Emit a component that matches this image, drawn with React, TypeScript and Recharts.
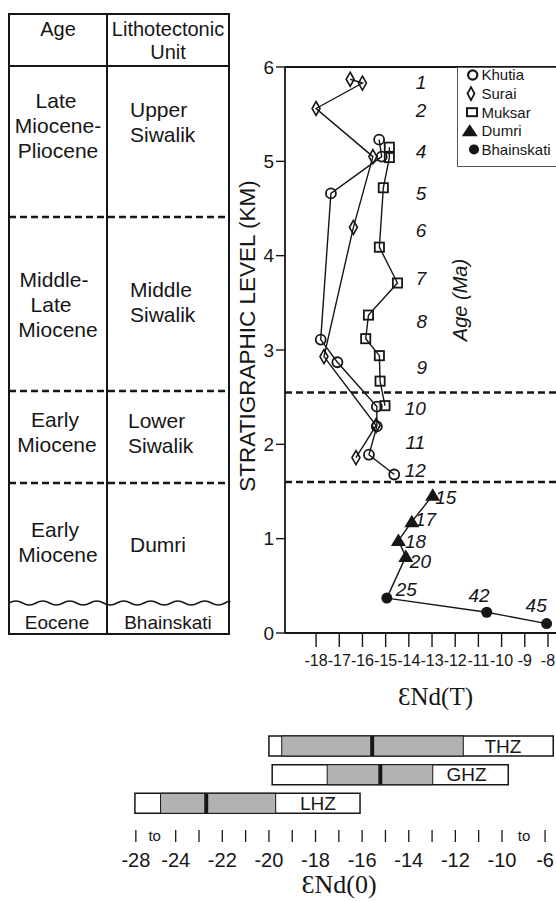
import React from 'react';
import {
  ScatterChart,
  Scatter,
  XAxis,
  YAxis,
  ReferenceLine,
  Legend,
  ComposedChart,
  Bar,
  LabelList,
} from 'recharts';

const SANS = "'Liberation Sans', Arial, Helvetica, sans-serif";
const SERIF = "'Liberation Serif', 'DejaVu Serif', 'Times New Roman', serif";
const INK = '#161616';

// ---------- upper panel: eNd(T) versus stratigraphic level (km) ----------
const khutiaEnd = [-15.28, -15.17, -17.36, -17.8, -17.08, -15.38, -15.38, -15.72, -14.63];
const khutiaLevel = [5.23, 5.05, 4.66, 3.11, 2.87, 2.4, 2.19, 1.89, 1.68];

const suraiEnd = [-16.53, -16.0, -18.0, -15.55, -16.39, -17.66, -15.41, -16.28];
const suraiLevel = [5.87, 5.83, 5.56, 5.05, 4.3, 2.93, 2.2, 1.86];

const muksarEnd = [-14.84, -14.84, -15.1, -15.27, -14.49, -15.74, -15.86, -15.27, -15.24, -15.03];
const muksarLevel = [5.15, 5.04, 4.72, 4.09, 3.71, 3.37, 3.12, 2.94, 2.67, 2.41];

const dumriEnd = [-12.97, -13.87, -14.45, -14.13];
const dumriLevel = [1.46, 1.18, 0.98, 0.81];

const bhainskatiEnd = [-14.95, -10.64, -8.06];
const bhainskatiLevel = [0.37, 0.22, 0.1];

// depositional ages (Ma) written beside the section
const ageText = ['1', '2', '4', '5', '6', '7', '8', '9', '10', '11', '12', '15', '17', '18', '20', '25', '42', '45'];
const ageEnd = [-13.47, -13.47, -13.47, -13.47, -13.47, -13.47, -13.44, -13.44, -13.72, -13.72, -13.72, -12.41, -13.28, -13.71, -13.5, -14.11, -10.97, -8.51];
const ageLevel = [5.84, 5.54, 5.1, 4.66, 4.27, 3.76, 3.3, 2.81, 2.38, 2.02, 1.72, 1.44, 1.2, 0.97, 0.76, 0.465, 0.4, 0.29];

const boundaryLevels = [2.55, 1.6];
const upperXTicks = [-18, -17, -16, -15, -14, -13, -12, -11, -10, -9, -8];
const upperYTicks = [0, 1, 2, 3, 4, 5, 6];
const legendNames = ['Khutia', 'Surai', 'Muksar', 'Dumri', 'Bhainskati'];

// ---------- lower panel: eNd(0) ranges of the Himalayan zones ----------
// (axis is broken: -28 and -6 sit at the ends after "to")
const zones = ['THZ', 'GHZ', 'LHZ'];
const zoneBoxMin = [-20.0, -19.86, -25.75];
const zoneBoxMax = [-7.8, -9.73, -16.09];
const zoneGreyMin = [-19.45, -17.5, -24.65];
const zoneGreyMax = [-11.66, -12.97, -19.71];
const zoneMean = [-15.57, -15.22, -22.69];
const zoneLabelAt = [-9.96, -11.52, -17.9];

const lowerTickPos = [-25.71, -24.9, -24, -23, -22, -21, -20, -19, -18, -17, -16, -15, -14, -13, -12, -11, -10, -9.05, -8.15];
const lowerTickText = ['-28', 'to', '-24', '', '-22', '', '-20', '', '-18', '', '-16', '', '-14', '', '-12', '', '-10', 'to', '-6'];

// ---------- derived series ----------
const toPoints = (xs: number[], ys: number[]) => xs.map((x, i) => ({ x, y: ys[i] }));
const khutia = toPoints(khutiaEnd, khutiaLevel);
const surai = toPoints(suraiEnd, suraiLevel);
const muksar = toPoints(muksarEnd, muksarLevel);
const dumri = toPoints(dumriEnd, dumriLevel);
const bhainskati = toPoints(bhainskatiEnd, bhainskatiLevel);
const connector = [dumri[dumri.length - 1], bhainskati[0]];
const ageLabels = ageText.map((t, i) => ({ x: ageEnd[i], y: ageLevel[i], t }));

const MEAN_HALF = 0.085;
const TAG_HALF = 0.01;
const zoneRows = zones.map((zone, i) => ({
  zone,
  box: [zoneBoxMin[i], zoneBoxMax[i]],
  grey: [zoneGreyMin[i], zoneGreyMax[i]],
  mean: [zoneMean[i] - MEAN_HALF, zoneMean[i] + MEAN_HALF],
  tag: [zoneLabelAt[i] - TAG_HALF, zoneLabelAt[i] + TAG_HALF],
}));

// ---------- marker shapes ----------
const OpenCircle = (p: any) => (
  <circle cx={p.cx} cy={p.cy} r={5} fill="none" stroke={INK} strokeWidth={1.8} />
);
const OpenDiamond = (p: any) => (
  <path
    d={`M${p.cx},${p.cy - 7} L${p.cx + 4},${p.cy} L${p.cx},${p.cy + 7} L${p.cx - 4},${p.cy} Z`}
    fill="none"
    stroke={INK}
    strokeWidth={1.6}
  />
);
const OpenSquare = (p: any) => (
  <rect x={p.cx - 4.6} y={p.cy - 4.6} width={9.2} height={9.2} fill="none" stroke={INK} strokeWidth={1.8} />
);
const FilledTriangle = (p: any) => (
  <path d={`M${p.cx},${p.cy - 7} L${p.cx + 7.5},${p.cy + 5.5} L${p.cx - 7.5},${p.cy + 5.5} Z`} fill={INK} />
);
const FilledCircle = (p: any) => <circle cx={p.cx} cy={p.cy} r={5.5} fill={INK} />;
const NoMarker = () => <g />;
const AgeMark = (p: any) => (
  <text
    x={p.cx}
    y={p.cy}
    textAnchor="middle"
    dominantBaseline="central"
    fontStyle="italic"
    fontSize={19}
    fontFamily={SANS}
    fill={INK}
  >
    {p.payload.t}
  </text>
);

const legendSymbols = [
  (cx: number, cy: number) => <circle cx={cx} cy={cy} r={4.6} fill="none" stroke={INK} strokeWidth={2.2} />,
  (cx: number, cy: number) => (
    <path d={`M${cx},${cy - 6.5} L${cx + 3.5},${cy} L${cx},${cy + 6.5} L${cx - 3.5},${cy} Z`} fill="none" stroke={INK} strokeWidth={1.8} />
  ),
  (cx: number, cy: number) => <rect x={cx - 5} y={cy - 4} width={10} height={8} fill="none" stroke={INK} strokeWidth={2} />,
  (cx: number, cy: number) => <path d={`M${cx},${cy - 6.5} L${cx + 8},${cy + 5.5} L${cx - 8},${cy + 5.5} Z`} fill={INK} />,
  (cx: number, cy: number) => <circle cx={cx} cy={cy} r={5} fill={INK} />,
];
const legendSymbolX = [14.7, 13, 14, 11.7, 16];

const LegendBox = () => (
  <div
    style={{
      width: 120,
      height: 100,
      border: '1px solid #555',
      boxSizing: 'border-box',
      background: '#fff',
    }}
  >
    <svg width={118} height={98} style={{ display: 'block', overflow: 'visible' }}>
      {legendNames.map((name, i) => {
        const cy = 7 + i * 18.6;
        return (
          <g key={name}>
            {legendSymbols[i](legendSymbolX[i], cy)}
            <text x={23.5} y={cy + 5.3} fontSize={15} fontFamily={SANS} fill={INK}>
              {name}
            </text>
          </g>
        );
      })}
    </svg>
  </div>
);

const UpperXLabel = (props: any) => {
  const vb = props.viewBox || { x: 285, y: 633, width: 285, height: 77 };
  return (
    <text x={vb.x + vb.width / 2 + 8} y={vb.y + 72} textAnchor="middle" fontSize={25} fontFamily={SERIF} fill={INK}>
      ƐNd(T)
    </text>
  );
};

const UpperYLabel = (props: any) => {
  const vb = props.viewBox || { x: 225, y: 67, width: 60, height: 566 };
  const cx = vb.x + 22;
  const cy = vb.y + vb.height / 2 - 14;
  return (
    <text
      x={cx}
      y={cy}
      transform={`rotate(-90, ${cx}, ${cy})`}
      textAnchor="middle"
      dominantBaseline="central"
      fontSize={22.5}
      fontFamily={SANS}
      fill={INK}
    >
      STRATIGRAPHIC LEVEL (KM)
    </text>
  );
};

const LowerXLabel = (props: any) => {
  const vb = props.viewBox || { x: 120, y: 818, width: 440, height: 83 };
  return (
    <text x={339} y={vb.y + 75} textAnchor="middle" fontSize={26} fontFamily={SERIF} fill={INK}>
      ƐNd(0)
    </text>
  );
};

const LowerTick = (p: any) => {
  const v = p.payload && p.payload.value;
  const i = lowerTickPos.indexOf(v);
  const lab = i >= 0 ? lowerTickText[i] : '';
  if (lab === 'to') {
    return (
      <text x={p.x} y={p.y + 23} textAnchor="middle" fontSize={15} fontFamily={SANS} fill={INK}>
        to
      </text>
    );
  }
  return (
    <g>
      <line x1={p.x} x2={p.x} y1={p.y + 12} y2={p.y + 24} stroke={INK} strokeWidth={1.3} />
      {lab ? (
        <text x={p.x} y={p.y + 49} textAnchor="middle" fontSize={20} fontFamily={SANS} fill={INK}>
          {lab}
        </text>
      ) : null}
    </g>
  );
};

const ZoneTag = (p: any) => (
  <text
    x={p.x + p.width / 2}
    y={p.y + p.height / 2}
    textAnchor="middle"
    dominantBaseline="central"
    fontSize={19}
    fontFamily={SANS}
    fill={INK}
  >
    {p.value}
  </text>
);

// ---------- stratigraphic table (left) ----------
const wavePath = (() => {
  let d = 'M9,603';
  for (let x = 9; x < 229; x += 13.5) {
    const up = Math.round((x - 9) / 13.5) % 2 === 0;
    d += ` Q${x + 6.75},${up ? 599 : 607} ${Math.min(x + 13.5, 229)},603`;
  }
  return d;
})();

const T = (props: any) => (
  <text fontFamily={SANS} fill={INK} fontSize={21} {...props} />
);

const StratTable = () => (
  <svg width={240} height={640} style={{ position: 'absolute', left: 0, top: 0 }}>
    <rect x={9} y={14} width={220} height={620} fill="none" stroke={INK} strokeWidth={2} />
    <line x1={9} x2={229} y1={66} y2={66} stroke={INK} strokeWidth={2} />
    <line x1={107} x2={107} y1={14} y2={634} stroke={INK} strokeWidth={2} />
    {[217, 391, 483].map((y) => (
      <line key={y} x1={9} x2={229} y1={y} y2={y} stroke={INK} strokeWidth={2.5} strokeDasharray="7 4" />
    ))}
    <path d={wavePath} fill="none" stroke={INK} strokeWidth={1.5} />
    <T x={58} y={36} textAnchor="middle" fontSize={20}>Age</T>
    <T x={168} y={36} textAnchor="middle" fontSize={20}>Lithotectonic</T>
    <T x={168} y={59} textAnchor="middle" fontSize={20}>Unit</T>

    <T x={56} y={108} textAnchor="middle">Late</T>
    <T x={58} y={133} textAnchor="middle">Miocene-</T>
    <T x={58} y={158} textAnchor="middle">Pliocene</T>
    <T x={130} y={117}>Upper</T>
    <T x={130} y={142}>Siwalik</T>

    <T x={54} y={287} textAnchor="middle">Middle-</T>
    <T x={51} y={312} textAnchor="middle">Late</T>
    <T x={58} y={337} textAnchor="middle">Miocene</T>
    <T x={130} y={297}>Middle</T>
    <T x={130} y={322}>Siwalik</T>

    <T x={55} y={427} textAnchor="middle">Early</T>
    <T x={57} y={452} textAnchor="middle">Miocene</T>
    <T x={128} y={428}>Lower</T>
    <T x={128} y={453}>Siwalik</T>

    <T x={55} y={537} textAnchor="middle">Early</T>
    <T x={58} y={562} textAnchor="middle">Miocene</T>
    <T x={130} y={552}>Dumri</T>

    <T x={57} y={629} textAnchor="middle" fontSize={19}>Eocene</T>
    <T x={168} y={629} textAnchor="middle" fontSize={19}>Bhainskati</T>
  </svg>
);

export default function App() {
  return (
    <div
      style={{
        position: 'absolute',
        left: 0,
        top: 0,
        width: 556,
        height: 901,
        overflow: 'hidden',
        background: '#fff',
      }}
    >
      <StratTable />

      <div style={{ position: 'absolute', left: 0, top: 0 }}>
        <ScatterChart width={580} height={710} margin={{ top: 67, right: 10, bottom: 0, left: 225 }}>
          <XAxis
            type="number"
            dataKey="x"
            domain={[-19.34, -7.05]}
            ticks={upperXTicks}
            interval={0}
            allowDataOverflow
            height={77}
            tickSize={14}
            tickMargin={8}
            axisLine={{ stroke: INK, strokeWidth: 1.8 }}
            tickLine={{ stroke: INK, strokeWidth: 1.4 }}
            tick={{ fill: INK, fontSize: 16, fontFamily: SANS }}
            label={{ content: UpperXLabel }}
          />
          <YAxis
            type="number"
            dataKey="y"
            domain={[0, 6]}
            ticks={upperYTicks}
            interval={0}
            width={60}
            tickSize={9}
            tickMargin={2}
            axisLine={{ stroke: INK, strokeWidth: 1.8 }}
            tickLine={{ stroke: INK, strokeWidth: 1.4 }}
            tick={{ fill: INK, fontSize: 19, fontFamily: SANS }}
            label={{ content: UpperYLabel }}
          />
          <ReferenceLine y={6} stroke={INK} strokeWidth={1.8} ifOverflow="visible" />
          {boundaryLevels.map((lv) => (
            <ReferenceLine key={lv} y={lv} stroke={INK} strokeWidth={2.5} strokeDasharray="7 4" />
          ))}
          <Legend
            layout="vertical"
            align="center"
            verticalAlign="middle"
            content={LegendBox}
            wrapperStyle={{ left: 457, top: 67, width: 120, height: 100, margin: 0, padding: 0 }}
          />
          <Scatter name="connector" data={connector} line={{ stroke: INK, strokeWidth: 1.4 }} shape={NoMarker} legendType="none" isAnimationActive={false} />
          <Scatter name="Khutia" data={khutia} line={{ stroke: INK, strokeWidth: 1.4 }} shape={OpenCircle} isAnimationActive={false} />
          <Scatter name="Surai" data={surai} line={{ stroke: INK, strokeWidth: 1.4 }} shape={OpenDiamond} isAnimationActive={false} />
          <Scatter name="Muksar" data={muksar} line={{ stroke: INK, strokeWidth: 1.4 }} shape={OpenSquare} isAnimationActive={false} />
          <Scatter name="Dumri" data={dumri} line={{ stroke: INK, strokeWidth: 1.4 }} shape={FilledTriangle} isAnimationActive={false} />
          <Scatter name="Bhainskati" data={bhainskati} line={{ stroke: INK, strokeWidth: 1.4 }} shape={FilledCircle} isAnimationActive={false} />
          <Scatter name="ages" data={ageLabels} shape={AgeMark} legendType="none" isAnimationActive={false} />
        </ScatterChart>
      </div>

      <svg width={556} height={720} style={{ position: 'absolute', left: 0, top: 0, pointerEvents: 'none' }}>
        <text
          x={460}
          y={300}
          transform="rotate(-90, 460, 300)"
          textAnchor="middle"
          dominantBaseline="central"
          fontStyle="italic"
          fontSize={20}
          fontFamily={SANS}
          fill={INK}
        >
          Age (Ma)
        </text>
      </svg>

      <div style={{ position: 'absolute', left: 0, top: 700 }}>
        <ComposedChart
          layout="vertical"
          width={580}
          height={201}
          data={zoneRows}
          margin={{ top: 32, right: 20, bottom: 0, left: 120 }}
          barCategoryGap={0}
        >
          <XAxis
            type="number"
            domain={[-26.39, -7.51]}
            ticks={lowerTickPos}
            interval={0}
            allowDataOverflow
            height={83}
            axisLine={false}
            tickLine={false}
            tickSize={0}
            tickMargin={0}
            tick={LowerTick}
            label={{ content: LowerXLabel }}
          />
          <YAxis yAxisId="box" type="category" dataKey="zone" hide />
          <YAxis yAxisId="grey" type="category" dataKey="zone" hide />
          <YAxis yAxisId="mean" type="category" dataKey="zone" hide />
          <YAxis yAxisId="tag" type="category" dataKey="zone" hide />
          <Bar yAxisId="box" dataKey="box" barSize={20} fill="#fff" stroke={INK} strokeWidth={1.5} isAnimationActive={false} />
          <Bar yAxisId="grey" dataKey="grey" barSize={20} fill="#b2b2b2" stroke={INK} strokeWidth={1} isAnimationActive={false} />
          <Bar yAxisId="mean" dataKey="mean" barSize={20} fill={INK} isAnimationActive={false} />
          <Bar yAxisId="tag" dataKey="tag" barSize={20} fill="none" isAnimationActive={false}>
            <LabelList dataKey="zone" content={ZoneTag} />
          </Bar>
        </ComposedChart>
      </div>
    </div>
  );
}
